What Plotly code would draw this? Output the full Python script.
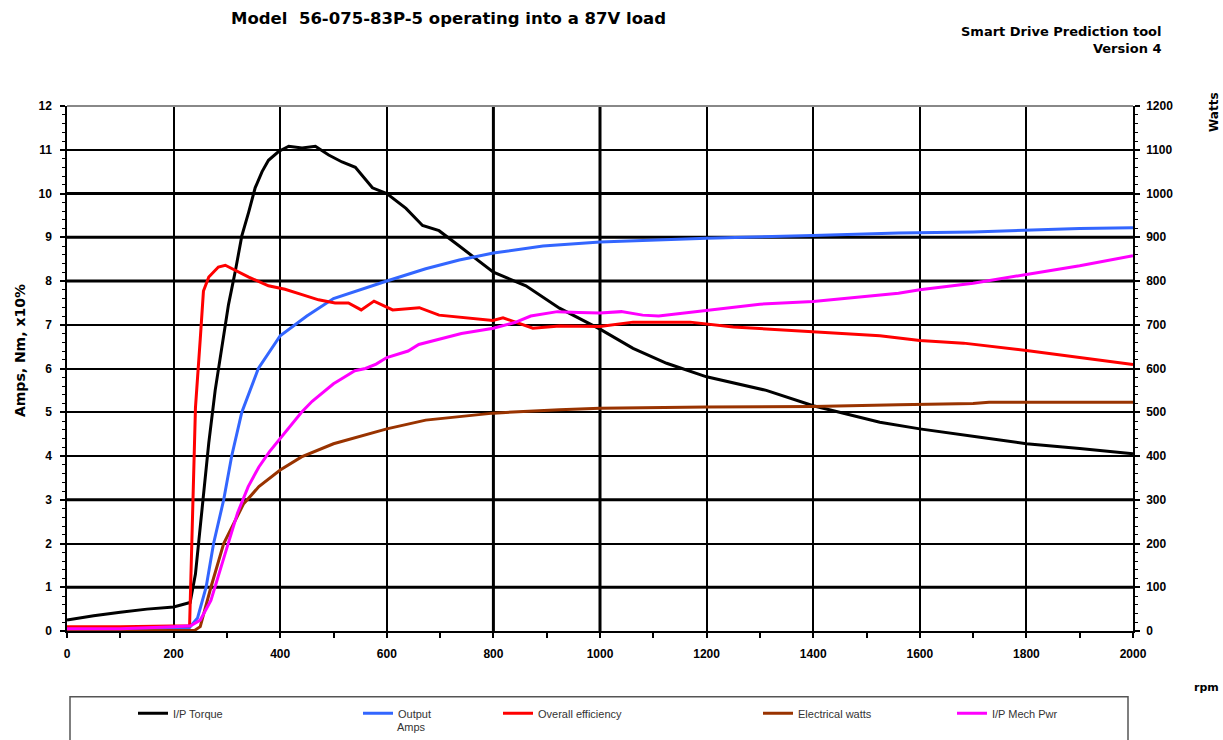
import plotly.graph_objects as go

# ---------------- data ----------------
torque_rpm = [0, 50, 100, 150, 200, 231, 241, 253, 266, 278, 291, 303, 316, 328, 341, 353, 366, 378, 397, 416,
              441, 466, 491, 516, 541, 573, 600, 636, 667, 698, 736, 800, 861, 924, 1000, 1062, 1125, 1200,
              1312, 1400, 1525, 1600, 1713, 1800, 1900, 2000]
torque_nm = [0.25, 0.35, 0.43, 0.5, 0.55, 0.65, 1.3, 2.7, 4.3, 5.5, 6.5, 7.46, 8.24, 9.03, 9.58, 10.13, 10.5, 10.76,
             10.96, 11.08, 11.04, 11.08, 10.88, 10.72, 10.6, 10.13, 10.0, 9.66, 9.27, 9.15, 8.8, 8.2, 7.89, 7.38,
             6.9, 6.46, 6.12, 5.81, 5.5, 5.15, 4.77, 4.62, 4.43, 4.28, 4.17, 4.05]

amps_rpm = [0, 100, 230, 245, 261, 275, 294, 309, 328, 359, 400, 416, 450, 500, 548, 600, 673, 736, 800, 893,
            1000, 1200, 1400, 1560, 1700, 1900, 2000]
amps_a = [0.05, 0.05, 0.08, 0.3, 1.0, 2.0, 3.0, 4.0, 5.0, 6.0, 6.75, 6.9, 7.2, 7.6, 7.8, 8.0, 8.28, 8.48, 8.64, 8.8,
          8.89, 8.98, 9.04, 9.1, 9.12, 9.2, 9.22]

eff_rpm = [0, 100, 230, 234, 241, 250, 256, 266, 284, 297, 316, 341, 378, 409, 441, 472, 503, 528, 552, 566, 576,
           611, 661, 698, 760, 799, 818, 874, 924, 1000, 1062, 1169, 1250, 1400, 1525, 1600, 1682, 1800, 1900, 2000]
eff_x10pct = [0.1, 0.1, 0.12, 1.9, 5.1, 6.67, 7.77, 8.09, 8.32, 8.36, 8.24, 8.09, 7.89, 7.81, 7.69, 7.57, 7.5, 7.5,
              7.34, 7.46, 7.54, 7.34, 7.39, 7.22, 7.15, 7.1, 7.16, 6.92, 6.97, 6.96, 7.06, 7.06, 6.95, 6.85, 6.75,
              6.64, 6.58, 6.41, 6.25, 6.09]

elec_rpm = [0, 100, 240, 250, 270, 294, 331, 360, 400, 440, 500, 548, 600, 673, 800, 924, 1000, 1200, 1400, 1560,
            1700, 1730, 2000]
elec_w = [0, 0, 2, 10, 100, 200, 290, 330, 368, 398, 428, 445, 462, 482, 498, 506, 509, 512, 513, 517, 520, 523, 523]

mech_rpm = [0, 100, 200, 232, 250, 270, 290, 300, 320, 340, 360, 380, 400, 420, 440, 460, 480, 500, 520, 540, 560,
            580, 600, 640, 660, 700, 740, 800, 840, 870, 920, 960, 1000, 1040, 1080, 1110, 1200, 1300, 1400, 1500,
            1560, 1600, 1700, 1800, 1900, 2000]
mech_w = [5, 5, 10, 12, 25, 70, 150, 190, 270, 330, 375, 410, 440, 470, 500, 525, 545, 565, 580, 595, 600, 610, 625,
          640, 655, 668, 680, 692, 705, 720, 730, 728, 727, 730, 722, 720, 733, 747, 753, 765, 772, 780, 795, 815,
          835, 858]

x_ticks = [0, 200, 400, 600, 800, 1000, 1200, 1400, 1600, 1800, 2000]
x_tick_text = ["0", "200", "400", "600", "800", "1000", "1200", "1400", "1600", "1800", "2000"]
y_ticks = list(range(0, 13))
y2_ticks = list(range(0, 1300, 100))

title_text = "Model  56-075-83P-5 operating into a 87V load"
tool_text = "Smart Drive Prediction tool<br>Version 4"

# heavier-looking gridlines in the reference (style only)
heavy_y_grid = [1, 3, 8, 9, 10]
heavy_x_grid = [800, 1000]

# ---------------- figure ----------------
FONT = "Liberation Sans, Arial, sans-serif"
WIDE = "DejaVu Sans, Liberation Sans, sans-serif"
W, H = 1223, 740
# plot area in pixels
PL, PR, PT, PB = 67, 1133, 106, 633
L, R, T, B = PL, W - PR, PT, H - PB
pw, ph = PR - PL, PB - PT

def px_x(p):
    return (p - PL) / pw

def px_y(p):
    return (PB - p) / ph

series = [
    ("I/P Torque", torque_rpm, torque_nm, "#000000", "y", "legend"),
    ("Output", amps_rpm, amps_a, "#3366FF", "y", "legend2"),
    ("Overall efficiency", eff_rpm, eff_x10pct, "#FF0000", "y", "legend3"),
    ("Electrical watts", elec_rpm, elec_w, "#993300", "y2", "legend4"),
    ("I/P Mech Pwr", mech_rpm, mech_w, "#FF00FF", "y2", "legend5"),
]

fig = go.Figure()
for name, xs, ys, col, yax, leg in series:
    fig.add_trace(go.Scatter(x=xs, y=ys, name=name, mode="lines", yaxis=yax, legend=leg,
                             line=dict(color=col, width=3)))

legend_text_x = [173, 398, 538, 798, 992]
leg_common = dict(orientation="v", yanchor="top", xanchor="left", bgcolor="rgba(0,0,0,0)",
                  font=dict(family=FONT, size=11, color="#333333"), borderwidth=0)
legends = {}
for i, tx in enumerate(legend_text_x):
    key = "legend" if i == 0 else f"legend{i+1}"
    legends[key] = dict(leg_common, x=px_x(tx - 40), y=px_y(701))

tickfont = dict(family=FONT, size=12, color="#000000", weight="bold")

fig.update_layout(
    width=W, height=H,
    margin=dict(l=L, r=R, t=T, b=B),
    paper_bgcolor="white", plot_bgcolor="white",
    showlegend=True,
    xaxis=dict(range=[0, 2000], tickvals=x_ticks, ticktext=x_tick_text, showgrid=True,
               gridcolor="#000000", gridwidth=1.5, showline=True, linecolor="#000000", linewidth=1.5,
               ticks="outside", ticklen=5, tickwidth=1.5, tickcolor="#000000", tickfont=tickfont,
               ticklabelstandoff=6,
               minor=dict(dtick=100, ticks="outside", ticklen=5, tickwidth=1.5, tickcolor="#000000", showgrid=False),
               zeroline=False, mirror=False),
    yaxis=dict(range=[0, 12], tickvals=y_ticks, showgrid=True, gridcolor="#000000", gridwidth=1.5,
               showline=True, linecolor="#000000", linewidth=1.5, ticks="outside", ticklen=5, tickwidth=1.5,
               tickcolor="#000000", tickfont=tickfont, zeroline=False, ticklabelstandoff=6,
               minor=dict(dtick=0.2, ticks="outside", ticklen=3, tickwidth=1, tickcolor="#000000", showgrid=False)),
    yaxis2=dict(range=[0, 1200], tickvals=y2_ticks, overlaying="y", side="right", showgrid=False,
                showline=True, linecolor="#000000", linewidth=1.5, ticks="outside", ticklen=5, tickwidth=1.5,
                tickcolor="#000000", tickfont=tickfont, zeroline=False, ticklabelstandoff=4,
                minor=dict(dtick=20, ticks="outside", ticklen=3, tickwidth=1, tickcolor="#000000")),
    **legends,
)

for gy in heavy_y_grid:
    fig.add_shape(type="line", xref="paper", yref="y", x0=0, x1=1, y0=gy, y1=gy, layer="below",
                  line=dict(color="#000000", width=3))
for gx in heavy_x_grid:
    fig.add_shape(type="line", xref="x", yref="paper", x0=gx, x1=gx, y0=0, y1=1, layer="below",
                  line=dict(color="#000000", width=3))

# plot-area top border (grey)
fig.add_shape(type="line", xref="paper", yref="paper", x0=0, x1=1, y0=1, y1=1,
              line=dict(color="#888888", width=2))
# legend frame
fig.add_shape(type="rect", xref="paper", yref="paper", x0=px_x(70), x1=px_x(1128), y0=px_y(699), y1=px_y(760),
              line=dict(color="#555555", width=1.5), fillcolor="rgba(0,0,0,0)")

ann = [
    dict(text=title_text, x=px_x(448), y=px_y(18), xanchor="center", yanchor="middle",
         font=dict(family=WIDE, size=16.5, color="#000000", weight="bold")),
    dict(text=tool_text, x=px_x(1163), y=px_y(40), xanchor="right", yanchor="middle", align="right",
         font=dict(family=WIDE, size=13, color="#000000", weight="bold")),
    dict(text="Amps, Nm, x10%", x=px_x(20), y=px_y(352), textangle=-90, xanchor="center", yanchor="middle",
         font=dict(family=WIDE, size=14, color="#000000", weight="bold")),
    dict(text="Watts", x=px_x(1214), y=px_y(112), textangle=-90, xanchor="center", yanchor="middle",
         font=dict(family=WIDE, size=12, color="#000000", weight="bold")),
    dict(text="rpm", x=px_x(1206), y=px_y(690), xanchor="center", yanchor="middle",
         font=dict(family=WIDE, size=11, color="#000000", weight="bold")),
    dict(text="Amps", x=px_x(395), y=px_y(729), xanchor="left", yanchor="middle",
         font=dict(family=FONT, size=11, color="#333333")),
]
for a in ann:
    fig.add_annotation(xref="paper", yref="paper", showarrow=False, **a)

fig.write_html("out.html", config={"displayModeBar": False},
               post_script="document.body.style.margin='0';document.body.style.overflow='hidden';")
